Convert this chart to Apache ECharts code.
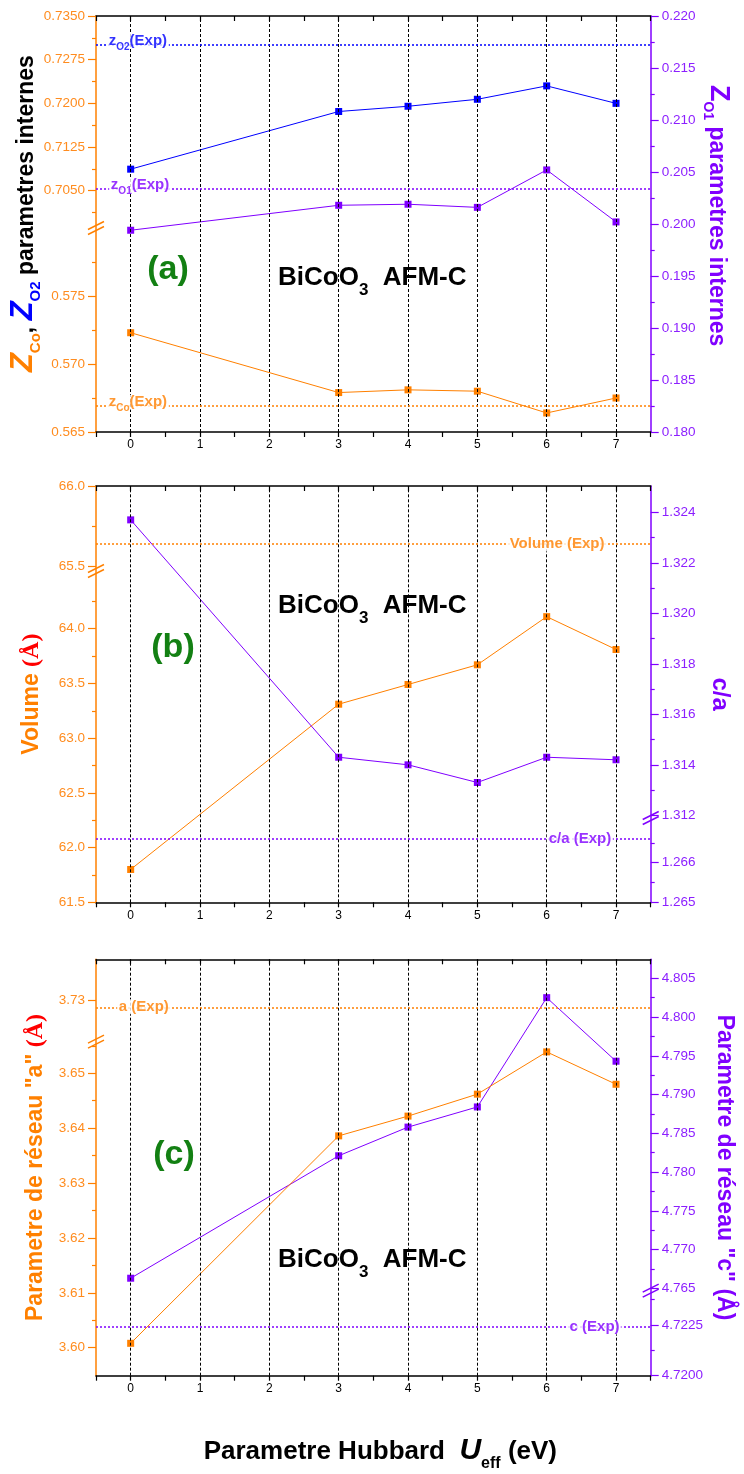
<!DOCTYPE html>
<html>
<head>
<meta charset="utf-8">
<title>BiCoO3 AFM-C</title>
<script src="https://cdn.jsdelivr.net/npm/echarts@6.0.0/dist/echarts.min.js"></script>
<style>
    html, body { margin: 0; padding: 0; background: #fff; }
    #chart { width: 744px; height: 1474px; }
</style>
</head>
<body>
<div id="chart"></div>
<script type="text/javascript">

    // Hubbard U_eff (eV)
    var hubbardU = [0, 3, 4, 5, 6, 7];
    var gridU = [0, 1, 2, 3, 4, 5, 6, 7];

    // (a) internal parameters
    var zCo = [0.5723, 0.5679, 0.5681, 0.5680, 0.5664, 0.5675];
    var zO2 = [0.7087, 0.7186, 0.7195, 0.7207, 0.7230, 0.7200];
    var zO1 = [0.1994, 0.2018, 0.2019, 0.2016, 0.2052, 0.2002];
    var zCoExp = 0.5669, zO2Exp = 0.7300, zO1Exp = 0.2034;

    // (b) volume and c/a
    var volume = [61.80, 63.31, 63.49, 63.67, 64.11, 63.81];
    var cOverA = [1.3237, 1.3143, 1.3140, 1.3133, 1.3143, 1.3142];
    var volumeExp = 65.64, cOverAExp = 1.2666;

    // (c) lattice parameters a and c
    var latA = [3.6008, 3.6386, 3.6422, 3.6462, 3.6539, 3.6480];
    var latC = [4.7663, 4.7821, 4.7858, 4.7884, 4.8025, 4.7943];
    var aExp = 3.7293, cExp = 4.7224;

    // tick labels of the broken axes
    var zO2Major = [0.7050, 0.7125, 0.7200, 0.7275, 0.7350];
    var zO2Minor = [0.70125, 0.70875, 0.71625, 0.72375, 0.73125];
    var zCoMajor = [0.565, 0.570, 0.575];
    var zCoMinor = [0.5675, 0.5725, 0.5775];
    var zO1Major = [0.180, 0.185, 0.190, 0.195, 0.200, 0.205, 0.210, 0.215, 0.220];
    var zO1Minor = [0.1825, 0.1875, 0.1925, 0.1975, 0.2025, 0.2075, 0.2125, 0.2175];
    var volLoMajor = [61.5, 62.0, 62.5, 63.0, 63.5, 64.0];
    var volLoMinor = [61.75, 62.25, 62.75, 63.25, 63.75, 64.25];
    var volUpMajor = [65.5, 66.0];
    var volUpMinor = [65.75];
    var caUpMajor = [1.312, 1.314, 1.316, 1.318, 1.320, 1.322, 1.324];
    var caUpMinor = [1.313, 1.315, 1.317, 1.319, 1.321, 1.323];
    var caLoMajor = [1.265, 1.266];
    var caLoMinor = [1.2655, 1.2665];
    var aUpMajor = [3.73];
    var aLoMajor = [3.60, 3.61, 3.62, 3.63, 3.64, 3.65];
    var aLoMinor = [3.605, 3.615, 3.625, 3.635, 3.645, 3.655];
    var cUpMajor = [4.765, 4.770, 4.775, 4.780, 4.785, 4.790, 4.795, 4.800, 4.805];
    var cUpMinor = [4.7675, 4.7725, 4.7775, 4.7825, 4.7875, 4.7925, 4.7975, 4.8025];
    var cLoMajor = [4.7200, 4.7225];
    var cLoMinor = [4.72125, 4.72375];

    var FONT = "'Liberation Sans', Arial, Helvetica, sans-serif";
    var SERIF = "'Liberation Serif', 'Times New Roman', serif";
    var ORANGE = '#ff8000', ORANGE_TXT = '#ff8c1f';
    var PURPLE = '#8000ff', PURPLE_TXT = '#8c1fff';
    var BLUE = '#0000ff', GREEN = '#138013', RED = '#ff0000';

    var grids = [
        {left: 96, right: 93.3, top: 16, height: 416, outerBoundsMode: 'none', containLabel: false},
        {left: 96, right: 93.3, top: 486, height: 416.3, outerBoundsMode: 'none', containLabel: false},
        {left: 96, right: 93.3, top: 959.3, height: 416.4, outerBoundsMode: 'none', containLabel: false}
    ];

    var xAxes = [], yAxes = [], series = [];

    function addX(gi, nameCfg) {
        var idx = xAxes.length;
        var ax = {
            type: 'value', gridIndex: gi, position: 'bottom', min: -0.5, max: 7.5, interval: 0.5,
            axisLine: {show: true, onZero: false, lineStyle: {color: '#000', width: 1.5}},
            axisTick: {show: true, inside: false, length: 5, lineStyle: {color: '#000', width: 1.2}},
            axisLabel: {show: true, margin: 7, color: '#000', fontSize: 12, fontFamily: FONT,
                formatter: function (v) {
                    var r = Math.round(v);
                    return (Math.abs(v - r) < 1e-6 && r >= 0 && r <= 7) ? String(r) : '';
                }},
            splitLine: {show: false}
        };
        if (nameCfg) {
            ax.name = nameCfg.text;
            ax.nameLocation = 'middle';
            ax.nameGap = nameCfg.gap;
            ax.nameTextStyle = {rich: nameCfg.rich};
        }
        xAxes.push(ax);
        xAxes.push({
            type: 'value', gridIndex: gi, position: 'top', min: -0.5, max: 7.5, interval: 0.5,
            axisLine: {show: true, onZero: false, lineStyle: {color: '#000', width: 1.5}},
            axisTick: {show: true, inside: true, length: 5, lineStyle: {color: '#000', width: 1.2}},
            axisLabel: {show: false},
            splitLine: {show: false}
        });
        return idx;
    }

    function addY(gi, pos, min, max, majors, minors, digits, color, labelColor, showLine, nameCfg) {
        var idx = yAxes.length;
        var ax = {
            type: 'value', gridIndex: gi, position: pos, min: min, max: max,
            axisLine: {show: showLine, onZero: false, lineStyle: {color: color, width: 1.5}},
            axisTick: {show: true, inside: false, length: 8, customValues: majors, lineStyle: {color: color, width: 1.2}},
            axisLabel: {show: true, customValues: majors, margin: 11, color: labelColor, fontSize: 13.5, fontFamily: FONT,
                formatter: function (v) { return v.toFixed(digits); }},
            splitLine: {show: false}
        };
        if (nameCfg) {
            ax.name = nameCfg.text;
            ax.nameLocation = 'middle';
            ax.nameGap = nameCfg.gap;
            ax.nameRotate = nameCfg.rotate;
            ax.nameMoveOverlap = false;
            ax.nameTextStyle = {rich: nameCfg.rich};
        }
        yAxes.push(ax);
        if (minors && minors.length) {
            yAxes.push({
                type: 'value', gridIndex: gi, position: pos, min: min, max: max,
                axisLine: {show: false, onZero: false},
                axisTick: {show: true, inside: false, length: 4, customValues: minors, lineStyle: {color: color, width: 1.2}},
                axisLabel: {show: false},
                splitLine: {show: false}
            });
        }
        return idx;
    }

    function addLine(name, xi, yi, values, color, withGrid) {
        var s = {
            name: name, type: 'line', xAxisIndex: xi, yAxisIndex: yi,
            data: hubbardU.map(function (u, i) { return [u, values[i]]; }),
            symbol: 'rect', symbolSize: 7, z: 3,
            lineStyle: {color: color, width: 1},
            itemStyle: {color: color}
        };
        if (withGrid) {
            // black dashed vertical lines at every integer U
            s.markLine = {silent: true, symbol: ['none', 'none'], label: {show: false}, precision: 6,
                data: gridU.map(function (u) {
                    return {xAxis: u, lineStyle: {color: '#000', type: [3, 2], width: 1}};
                })};
        }
        series.push(s);
    }

    function addExpLine(xi, yi, value, color) {
        var dotted = {color: color, type: [2, 2], width: 1.5, opacity: 1};
        series.push({
            type: 'line', xAxisIndex: xi, yAxisIndex: yi, data: [], z: 2, color: color,
            markLine: {silent: true, symbol: ['none', 'none'], label: {show: false}, precision: 8,
                lineStyle: dotted,
                data: [{yAxis: value, lineStyle: dotted}]}
        });
    }

    function expRich(color) {
        return {
            m: {color: color, fontSize: 15, fontWeight: 'bold', fontFamily: FONT, lineHeight: 15, verticalAlign: 'top'},
            s: {color: color, fontSize: 10, fontWeight: 'bold', fontFamily: FONT, lineHeight: 10, padding: [9, 0, 0, 0], verticalAlign: 'top'}
        };
    }

    function addExpLabel(xi, yi, xAnchor, value, text, color, dy) {
        series.push({
            type: 'scatter', xAxisIndex: xi, yAxisIndex: yi, silent: true, z: 5,
            data: [[xAnchor, value]], symbolSize: 1,
            itemStyle: {color: 'rgba(0,0,0,0)'},
            label: {show: true, position: 'inside', offset: [0, dy], formatter: text,
                backgroundColor: '#fff', padding: [0, 2, 0, 2], rich: expRich(color)}
        });
    }

    // each entry: [color, fontSize, fontStyle, paddingTop, fontFamily, paddingLeft]
    function nameRich(base) {
        var r = {};
        Object.keys(base).forEach(function (k) {
            var s = base[k];
            r[k] = {color: s[0], fontSize: s[1], fontWeight: 'bold', fontStyle: s[2] || 'normal',
                fontFamily: s[4] || FONT, lineHeight: s[1], padding: [s[3] || 0, 0, 0, s[5] || 0], verticalAlign: 'top'};
        });
        return r;
    }

    // ---------- panel (a)
    var xa = addX(0);
    var yaUp = addY(0, 'left', 0.66357, 0.7350, zO2Major, zO2Minor, 4, ORANGE, ORANGE_TXT, true, {
        text: '{pad| }{zo|Z}{so|Co}{k|, }{zb|Z}{sb|O2}{k| parametres internes}', gap: 57, rotate: 90,
        rich: nameRich({zo: [ORANGE, 31, 'italic'], so: [ORANGE, 15, 'normal', 20], zb: [BLUE, 31, 'italic'],
            sb: [BLUE, 15, 'normal', 20], k: ['#000', 23, 'normal', 7], pad: ['#fff', 10, 'normal', 0, FONT, 18]})
    });
    var yaLo = addY(0, 'left', 0.565, 0.59559, zCoMajor, zCoMinor, 3, ORANGE, ORANGE_TXT, false);
    var yaR = addY(0, 'right', 0.180, 0.220, zO1Major, zO1Minor, 3, PURPLE, PURPLE_TXT, true, {
        text: '{z|Z}{s|O1}{k| parametres internes}{pad| }', gap: 54, rotate: -90,
        rich: nameRich({z: [PURPLE, 27], s: [PURPLE, 14, 'normal', 17], k: [PURPLE, 23, 'normal', 4],
            pad: ['#fff', 10, 'normal', 0, FONT, 14]})
    });
    addLine('zO2', xa, yaUp, zO2, BLUE, true);
    addLine('zO1', xa, yaR, zO1, PURPLE, false);
    addLine('zCo', xa, yaLo, zCo, ORANGE, false);
    addExpLine(xa, yaUp, zO2Exp, BLUE);
    addExpLine(xa, yaR, zO1Exp, PURPLE);
    addExpLine(xa, yaLo, zCoExp, ORANGE);
    addExpLabel(xa, yaUp, 0.105, zO2Exp, '{m|z}{s|O2}{m|(Exp)}', BLUE, -4);
    addExpLabel(xa, yaR, 0.135, zO1Exp, '{m|z}{s|O1}{m|(Exp)}', PURPLE, -4);
    addExpLabel(xa, yaLo, 0.105, zCoExp, '{m|z}{s|Co}{m|(Exp)}', ORANGE, -4);

    // ---------- panel (b)
    var xb = addX(1);
    var ybLo = addY(1, 'left', 61.5, 65.3037, volLoMajor, volLoMinor, 1, ORANGE, ORANGE_TXT, true, {
        text: '{k|Volume }{r|(Å)}', gap: 52, rotate: 90,
        rich: nameRich({k: [ORANGE, 23], r: [RED, 24, 'normal', 0, SERIF]})
    });
    var ybUp = addY(1, 'left', 63.4206, 66.0, volUpMajor, volUpMinor, 1, ORANGE, ORANGE_TXT, false);
    var ybRUp = addY(1, 'right', 1.308556, 1.325041, caUpMajor, caUpMinor, 3, PURPLE, PURPLE_TXT, true, {
        text: '{k|c/a}', gap: 57, rotate: -90,
        rich: nameRich({k: [PURPLE, 24]})
    });
    var ybRLo = addY(1, 'right', 1.265, 1.275512, caLoMajor, caLoMinor, 3, PURPLE, PURPLE_TXT, false);
    addLine('volume', xb, ybLo, volume, ORANGE, true);
    addLine('c/a', xb, ybRUp, cOverA, PURPLE, false);
    addExpLine(xb, ybUp, volumeExp, ORANGE);
    addExpLine(xb, ybRLo, cOverAExp, PURPLE);
    addExpLabel(xb, ybUp, 6.15, volumeExp, '{m|Volume (Exp)}', ORANGE, 0);
    addExpLabel(xb, ybRLo, 6.48, cOverAExp, '{m|c/a (Exp)}', PURPLE, 0);

    // ---------- panel (c)
    var xc = addX(2, {
        text: '{m0|Parametre Hubbard  }{u|U}{s|eff}{m| (eV)}', gap: 60,
        rich: nameRich({m0: ['#000', 26, 'normal', 3, FONT, 14], m: ['#000', 26, 'normal', 3],
            u: ['#000', 30, 'italic'], s: ['#000', 16, 'normal', 20]})
    });
    var ycUp = addY(2, 'left', 3.695849, 3.7337, aUpMajor, [], 2, ORANGE, ORANGE_TXT, false);
    var ycLo = addY(2, 'left', 3.5949, 3.67077, aLoMajor, aLoMinor, 2, ORANGE, ORANGE_TXT, true, {
        text: '{k|Parametre de réseau "a" }{r|(Å)}', gap: 48, rotate: 90,
        rich: nameRich({k: [ORANGE, 23], r: [RED, 24, 'normal', 0, SERIF]})
    });
    var ycRUp = addY(2, 'right', 4.753723, 4.80745, cUpMajor, cUpMinor, 3, PURPLE, PURPLE_TXT, true, {
        text: '{k|Parametre de réseau "c" (Å)}', gap: 62, rotate: -90,
        rich: nameRich({k: [PURPLE, 23]})
    });
    var ycRLo = addY(2, 'right', 4.7200, 4.740533, cLoMajor, cLoMinor, 4, PURPLE, PURPLE_TXT, false);
    addLine('c', xc, ycRUp, latC, PURPLE, true);
    addLine('a', xc, ycLo, latA, ORANGE, false);
    addExpLine(xc, ycUp, aExp, ORANGE);
    addExpLine(xc, ycRLo, cExp, PURPLE);
    addExpLabel(xc, ycUp, 0.19, aExp, '{m|a (Exp)}', ORANGE, -1);
    addExpLabel(xc, ycRLo, 6.69, cExp, '{m|c (Exp)}', PURPLE, 0);

    // ---------- annotations
    function breakMark(x, y, color) {
        return {type: 'group', x: x, y: y, z: 100, children: [
            {type: 'rect', shape: {x: -2.5, y: -4, width: 5, height: 7}, style: {fill: '#fff'}},
            {type: 'line', shape: {x1: -8, y1: 1.5, x2: 8, y2: -6.5}, style: {stroke: color, lineWidth: 1.5}},
            {type: 'line', shape: {x1: -8, y1: 6.5, x2: 8, y2: -1.5}, style: {stroke: color, lineWidth: 1.5}}
        ]};
    }
    function panelLetter(text, x, y) {
        return {type: 'text', x: x, y: y, z: 10, style: {text: text, fill: GREEN, fontSize: 34, fontWeight: 'bold',
            fontFamily: FONT, align: 'center', verticalAlign: 'middle'}};
    }
    function compound(y) {
        return {type: 'text', x: 278, y: y, z: 10, style: {
            text: '{m|BiCoO}{s|3}{m|  AFM-C}', align: 'left', verticalAlign: 'top',
            rich: {
                m: {fill: '#000', fontSize: 26, fontWeight: 'bold', fontFamily: FONT, lineHeight: 26, verticalAlign: 'top'},
                s: {fill: '#000', fontSize: 17, fontWeight: 'bold', fontFamily: FONT, lineHeight: 17, padding: [17, 0, 0, 0], verticalAlign: 'top'}
            }}};
    }

    var chart = echarts.init(document.getElementById('chart'));
    chart.setOption({
        animation: false,
        backgroundColor: '#fff',
        grid: grids,
        xAxis: xAxes,
        yAxis: yAxes,
        series: series,
        graphic: [
            breakMark(96, 228, ORANGE),
            breakMark(96, 571, ORANGE),
            breakMark(650.7, 818, PURPLE),
            breakMark(96, 1041.7, ORANGE),
            breakMark(650.7, 1290.7, PURPLE),
            panelLetter('(a)', 168, 270),
            panelLetter('(b)', 173, 648),
            panelLetter('(c)', 174, 1155),
            compound(265),
            compound(593),
            compound(1247)
        ]
    });
</script>
</body>
</html>
